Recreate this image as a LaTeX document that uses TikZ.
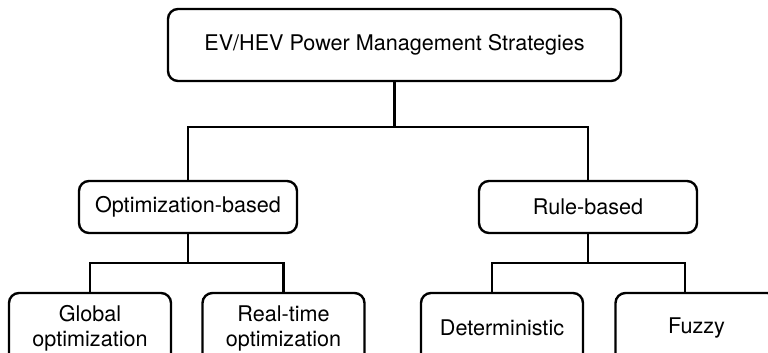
\documentclass[tikz,border=0pt]{standalone}
\usepackage{fontspec}
\setmainfont{TeX Gyre Heros}
\usepackage{tikz}

\begin{document}
\begin{tikzpicture}[x=0.5pt,y=-0.5pt,
            box/.style={draw, line width=1.2pt, rounded corners=5pt, fill=white,
                        inner sep=0pt, align=center,
                        font=\fontsize{10.8}{12.5}\selectfont},
            link/.style={line width=1.2pt}]
            \clip (0,0) rectangle (768,353); % page frame, bottom row runs off the edge
            % top level
            \node[box, minimum width=226.5pt, minimum height=36pt] (top) at (394.5,45)
                {EV/HEV Power Management Strategies};
            % second level
            \node[box, minimum width=109pt, minimum height=26pt] (opt) at (188,207) {Optimization-based};
            \node[box, minimum width=109pt, minimum height=26pt] (rule) at (588,207) {Rule-based};
            % third level
            \node[box, minimum width=81pt, minimum height=35pt] (glob) at (90,328) {Global\\optimization};
            \node[box, minimum width=81pt, minimum height=35pt] (real) at (283.5,328) {Real-time\\optimization};
            \node[box, minimum width=81pt, minimum height=35pt] (det) at (502,328) {Deterministic};
            \node[box, minimum width=81pt, minimum height=35pt] (fuz) at (696.5,328) {Fuzzy};
            % junctions of the tree
            \coordinate (j1) at (394.5,127);
            \coordinate (j2) at (188,263);
            \coordinate (j3) at (588,263);
            \draw[link] (top.south) -- (j1);
            \draw[link] (opt.north) |- (j1) -| (rule.north);
            \draw[link] (opt.south) -- (j2);
            \draw[link] (glob.north) |- (j2) -| (real.north);
            \draw[link] (rule.south) -- (j3);
            \draw[link] ([xshift=-5pt]det.north) |- (j3) -| ([xshift=-5.75pt]fuz.north);
\end{tikzpicture}
\end{document}
